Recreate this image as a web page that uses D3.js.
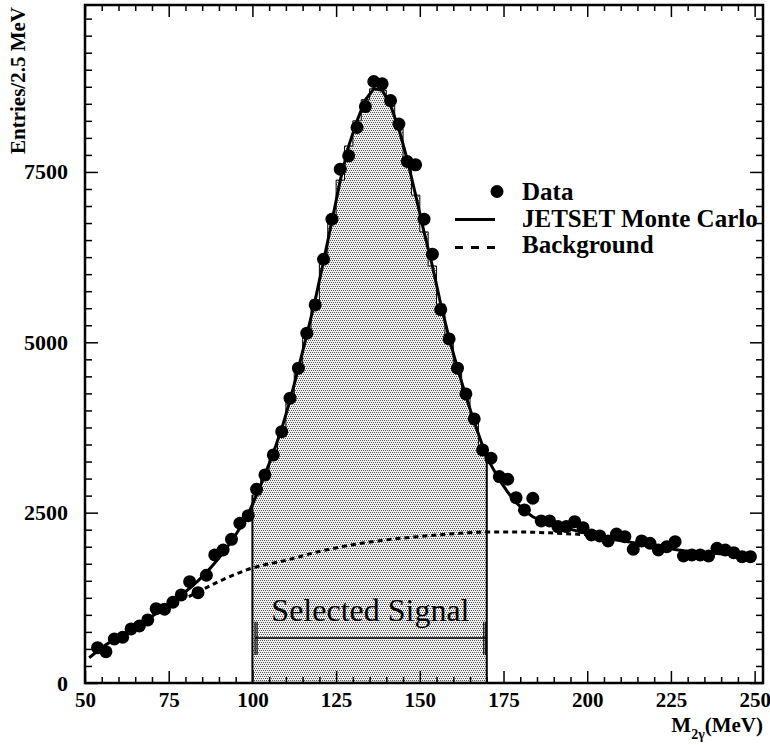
<!DOCTYPE html>
<html>
<head>
<meta charset="utf-8">
<script src="https://cdn.jsdelivr.net/npm/d3@7/dist/d3.min.js"></script>
<style>
  body { margin: 0; background: #fff; }
  text { font-family: "Liberation Serif", "Times New Roman", serif; }
</style>
</head>
<body>
<div id="chart"></div>
<script>
// bins of 2.5 MeV, first data bin centred on 53.75
const binWidth = 2.5;
const dataStart = 53.75;
const dataValues = [
  518, 460, 646, 671, 793, 837, 925, 1091, 1082, 1185,
  1292, 1487, 1326, 1581, 1879, 1952, 2109, 2344, 2456,
  2843, 3053, 3347, 3689, 4180, 4620, 5134, 5549, 6219, 6807,
  7541, 7736, 8152, 8460, 8827, 8793, 8548, 8202, 7653, 7604,
  6807, 6293, 5480, 5050, 4620, 4243, 3876, 3421,
  3299, 3029, 2990, 2720, 2540, 2711, 2378, 2378, 2295, 2295,
  2368, 2280, 2173, 2158, 2085, 2187, 2148, 1963, 2085, 2051,
  1952, 2001, 2074, 1864, 1879, 1879, 1864, 1977, 1952, 1913,
  1854, 1854
];

// JETSET Monte Carlo, first bin centred on 51.25
const mcStart = 51.25;
const mcValues = [
  370, 470, 560, 640, 710, 780, 860, 940, 1020, 1100,
  1190, 1290, 1390, 1500, 1620, 1760, 1910, 2080, 2270, 2480,
  2760, 3060, 3380, 3730, 4150, 4620, 5110, 5620, 6190, 6780,
  7380, 7880, 8250, 8560, 8720, 8700, 8480, 8130, 7680, 7160,
  6620, 6120, 5560, 5060, 4620, 4210, 3830, 3480,
  3200, 2980, 2800, 2650, 2530, 2440, 2380, 2340, 2300, 2270,
  2240, 2210, 2180, 2150, 2120, 2100, 2080, 2060, 2040, 2020,
  2000, 1980, 1960, 1940, 1930, 1920, 1910, 1900, 1890, 1880,
  1870, 1860
];

// background curve
const bgMass   = [81, 90, 100, 110, 120, 130, 140, 150, 160, 170, 180, 190, 200, 205];
const bgValues = [1267, 1490, 1688, 1800, 1930, 2030, 2100, 2150, 2190, 2215, 2215, 2200, 2175, 2160];

const signalRange = [100, 170];
const signalBar = [100.8, 169.7];
const signalBarLevel = 660;
const signalCap = [410, 900];

const xTicks = [50, 75, 100, 125, 150, 175, 200, 225, 250];
const yTicks = [0, 2500, 5000, 7500];
const legendLabels = ["Data", "JETSET Monte Carlo", "Background"];

const W = 770, H = 745;

const svg = d3.select("#chart")
  .append("svg")
  .attr("width", W)
  .attr("height", H);

const x = d3.scaleLinear().domain([50, 252.5]).range([85, 763]);
const y = d3.scaleLinear().domain([0, 9950]).range([683, 5]);

const data = dataValues.map((v, i) => ({ m: dataStart + i * binWidth, v: v }));
const mc = mcValues.map((v, i) => ({ m: mcStart + i * binWidth, v: v }));
const bg = bgMass.map((m, i) => ({ m: m, v: bgValues[i] }));

// dotted fill pattern
const defs = svg.append("defs");
const pat = defs.append("pattern")
  .attr("id", "dots")
  .attr("width", 4).attr("height", 4)
  .attr("patternUnits", "userSpaceOnUse");
pat.append("rect").attr("width", 4).attr("height", 4).attr("fill", "#efefef");
[[0, 0], [2, 0], [1, 2], [3, 2]].forEach(p => {
  pat.append("rect").attr("x", p[0]).attr("y", p[1])
    .attr("width", 1).attr("height", 1).attr("fill", "#555");
});

// shaded signal histogram
const sig = mc.filter(d => d.m > signalRange[0] && d.m < signalRange[1]);
const steps = [];
sig.forEach(d => {
  steps.push({ m: d.m - binWidth / 2, v: d.v });
  steps.push({ m: d.m + binWidth / 2, v: d.v });
});

svg.append("path")
  .datum(steps)
  .attr("fill", "url(#dots)")
  .attr("shape-rendering", "crispEdges")
  .attr("d", d3.area().x(d => x(d.m)).y0(y(0)).y1(d => y(d.v)));

svg.append("path")
  .datum(steps)
  .attr("fill", "none")
  .attr("stroke", "#000")
  .attr("stroke-width", 1)
  .attr("d", d3.line().x(d => x(d.m)).y(d => y(d.v)));

// edges of the selected region
[steps[0], steps[steps.length - 1]].forEach(d => {
  svg.append("line")
    .attr("x1", x(d.m)).attr("x2", x(d.m))
    .attr("y1", y(0)).attr("y2", y(d.v))
    .attr("stroke", "#000").attr("stroke-width", 2);
});

// background
svg.append("path")
  .datum(bg)
  .attr("fill", "none")
  .attr("stroke", "#000")
  .attr("stroke-width", 3)
  .attr("stroke-dasharray", "5,4")
  .attr("d", d3.line().curve(d3.curveMonotoneX).x(d => x(d.m)).y(d => y(d.v)));

// Monte Carlo
svg.append("path")
  .datum(mc)
  .attr("fill", "none")
  .attr("stroke", "#000")
  .attr("stroke-width", 3)
  .attr("d", d3.line().x(d => x(d.m)).y(d => y(d.v)));

// data points
svg.append("g")
  .selectAll("circle")
  .data(data)
  .join("circle")
  .attr("cx", d => x(d.m))
  .attr("cy", d => y(d.v))
  .attr("r", 6.5)
  .attr("fill", "#000");

// Selected Signal marker
svg.append("line")
  .attr("x1", x(signalBar[0])).attr("x2", x(signalBar[1]))
  .attr("y1", y(signalBarLevel)).attr("y2", y(signalBarLevel))
  .attr("stroke", "#000").attr("stroke-width", 1.5);
signalBar.forEach((m, k) => {
  [0, 2].forEach(off => {
    const px = x(m) + (k === 0 ? off : -off);
    svg.append("line")
      .attr("x1", px).attr("x2", px)
      .attr("y1", y(signalCap[0])).attr("y2", y(signalCap[1]))
      .attr("stroke", "#000").attr("stroke-width", 1.2);
  });
});
svg.append("text")
  .attr("x", x((signalBar[0] + signalBar[1]) / 2))
  .attr("y", 621)
  .attr("text-anchor", "middle")
  .style("font-size", "32px")
  .text("Selected Signal");

// legend
const lg = svg.append("g");
lg.append("circle").attr("cx", 497).attr("cy", 191.5).attr("r", 6.5).attr("fill", "#000");
lg.append("line").attr("x1", 455).attr("x2", 495).attr("y1", 219.5).attr("y2", 219.5)
  .attr("stroke", "#000").attr("stroke-width", 3);
lg.append("line").attr("x1", 455).attr("x2", 497).attr("y1", 247.5).attr("y2", 247.5)
  .attr("stroke", "#000").attr("stroke-width", 3).attr("stroke-dasharray", "8,8");
lg.selectAll("text")
  .data(legendLabels)
  .join("text")
  .attr("x", 522)
  .attr("y", (d, i) => 200 + i * 26.5)
  .style("font-size", "25px")
  .style("font-weight", "bold")
  .text(d => d);

// axes, ticks inward on all four sides
const xMinor = d3.range(55, 252.5, 5).filter(v => v % 25 !== 0);
const yMinor = d3.range(250, 9950, 250).filter(v => v % 2500 !== 0);

function styleAxis(g) {
  g.select(".domain").remove();
  g.selectAll(".tick line").attr("stroke", "#000").attr("stroke-width", 1.5);
  g.selectAll(".tick text")
    .attr("fill", "#000")
    .style("font-family", "'Liberation Serif', 'Times New Roman', serif")
    .style("font-weight", "bold");
}

svg.append("g").attr("transform", "translate(0,683)")
  .call(d3.axisBottom(x).tickValues(xTicks).tickSize(-12).tickPadding(9).tickFormat(d3.format("d")))
  .call(styleAxis)
  .selectAll(".tick text").style("font-size", "21px");
svg.append("g").attr("transform", "translate(0,683)")
  .call(d3.axisBottom(x).tickValues(xMinor).tickSize(-6).tickFormat(""))
  .call(styleAxis);
svg.append("g").attr("transform", "translate(0,5)")
  .call(d3.axisTop(x).tickValues(xTicks).tickSize(-12).tickFormat(""))
  .call(styleAxis);
svg.append("g").attr("transform", "translate(0,5)")
  .call(d3.axisTop(x).tickValues(xMinor).tickSize(-6).tickFormat(""))
  .call(styleAxis);

svg.append("g").attr("transform", "translate(85,0)")
  .call(d3.axisLeft(y).tickValues(yTicks).tickSize(-13).tickPadding(17).tickFormat(d3.format("d")))
  .call(styleAxis)
  .selectAll(".tick text").style("font-size", "22px");
svg.append("g").attr("transform", "translate(85,0)")
  .call(d3.axisLeft(y).tickValues(yMinor).tickSize(-7).tickFormat(""))
  .call(styleAxis);
svg.append("g").attr("transform", "translate(763,0)")
  .call(d3.axisRight(y).tickValues(yTicks).tickSize(-13).tickFormat(""))
  .call(styleAxis);
svg.append("g").attr("transform", "translate(763,0)")
  .call(d3.axisRight(y).tickValues(yMinor).tickSize(-7).tickFormat(""))
  .call(styleAxis);

// frame
svg.append("rect")
  .attr("x", 85).attr("y", 5)
  .attr("width", 678).attr("height", 678)
  .attr("fill", "none")
  .attr("stroke", "#000")
  .attr("stroke-width", 2.5);

// axis titles
svg.append("text")
  .attr("transform", "translate(25,7) rotate(-90)")
  .attr("text-anchor", "end")
  .style("font-size", "21px")
  .style("font-weight", "bold")
  .text("Entries/2.5 MeV");

const xt = svg.append("text")
  .attr("x", 763)
  .attr("y", 732)
  .attr("text-anchor", "end")
  .style("font-size", "21px")
  .style("font-weight", "bold");
xt.append("tspan").text("M");
xt.append("tspan").attr("dy", 7).style("font-size", "14px").text("2γ");
xt.append("tspan").attr("dy", -7).text("(MeV)");
</script>
</body>
</html>
